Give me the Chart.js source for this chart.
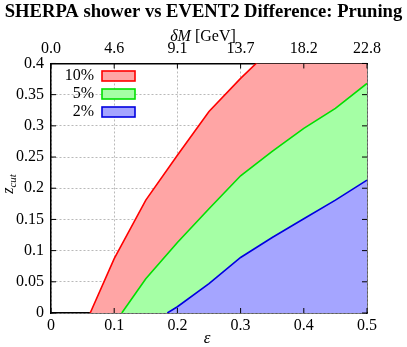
<!DOCTYPE html>
<html>
<head>
<meta charset="utf-8">
<script src="https://cdn.jsdelivr.net/npm/chart.js@4/dist/chart.umd.min.js"></script>
<style>
  html, body { margin: 0; padding: 0; background: #fff; }
  #wrap { width: 407px; height: 347px; }
</style>
</head>
<body>
<div id="wrap"><canvas id="pruneChart" width="407" height="347"></canvas></div>
<script>
// data: epsilon (x) and z_cut (y) for each contour
const eps10 = [0.062, 0.1, 0.15, 0.2, 0.25, 0.3, 0.35, 0.4, 0.45, 0.5];
const z10   = [0, 0.087, 0.181, 0.253, 0.323, 0.376, 0.425, 0.47, 0.51, 0.55];

const eps5 = [0.112, 0.15, 0.2, 0.25, 0.3, 0.35, 0.4, 0.45, 0.5];
const z5   = [0, 0.055, 0.113, 0.167, 0.220, 0.259, 0.296, 0.328, 0.368];

const eps2 = [0.184, 0.2, 0.25, 0.3, 0.35, 0.4, 0.45, 0.5];
const z2   = [0, 0.010, 0.047, 0.089, 0.121, 0.151, 0.181, 0.213];

// top axis labels (delta M in GeV at eps = 0, 0.1, ... 0.5)
const topTickLabels = ['0.0', '4.6', '9.1', '13.7', '18.2', '22.8'];

const legendLabels = ['10%', '5%', '2%'];
const lineColors = ['#ff0000', '#00e000', '#0000e0'];
const fillColors = ['#ffa5a5', '#a5ffa5', '#a5a5ff'];

const serif = '"Liberation Serif", "DejaVu Serif", serif';

function toPoints(xs, ys) {
    return xs.map((x, i) => ({ x: x, y: ys[i] }));
}

// blue first so it is painted on top (chart.js draws index 0 last)
const datasets = [
    { label: '2%', data: toPoints(eps2, z2), borderColor: lineColors[2], backgroundColor: fillColors[2] },
    { label: '5%', data: toPoints(eps5, z5), borderColor: lineColors[1], backgroundColor: fillColors[1] },
    { label: '10%', data: toPoints(eps10, z10), borderColor: lineColors[0], backgroundColor: fillColors[0] }
].map(ds => Object.assign(ds, { fill: 'origin', pointRadius: 0, borderWidth: 1.6, tension: 0 }));

function trimNum(v) {
    return String(+v.toFixed(2));
}

// ticks pointing into the plot, axis titles and the inside legend
const extrasPlugin = {
    id: 'extras',
    afterDraw(chart) {
        const ctx = chart.ctx;
        const area = chart.chartArea;
        const s = chart.scales;
        ctx.save();
        ctx.strokeStyle = '#000';
        ctx.lineWidth = 1;
        const tl = 5;
        s.x.ticks.forEach(t => {
            const px = s.x.getPixelForValue(t.value);
            ctx.beginPath();
            ctx.moveTo(px, area.bottom); ctx.lineTo(px, area.bottom - tl);
            ctx.moveTo(px, area.top); ctx.lineTo(px, area.top + tl);
            ctx.stroke();
        });
        s.y.ticks.forEach(t => {
            const py = s.y.getPixelForValue(t.value);
            ctx.beginPath();
            ctx.moveTo(area.left, py); ctx.lineTo(area.left + tl, py);
            ctx.moveTo(area.right, py); ctx.lineTo(area.right - tl, py);
            ctx.stroke();
        });

        ctx.fillStyle = '#000';
        ctx.textBaseline = 'middle';

        // epsilon
        ctx.font = 'italic 17px ' + serif;
        ctx.textAlign = 'center';
        ctx.fillText('\u03B5', 207, 339);

        // delta M [GeV]
        const part1 = '\u03B4M';
        const part2 = ' [GeV]';
        ctx.font = 'italic 16px ' + serif;
        const w1 = ctx.measureText(part1).width;
        ctx.font = '16px ' + serif;
        const w2 = ctx.measureText(part2).width;
        let x0 = 203 - (w1 + w2) / 2;
        ctx.textAlign = 'left';
        ctx.font = 'italic 16px ' + serif;
        ctx.fillText(part1, x0, 37);
        ctx.font = '16px ' + serif;
        ctx.fillText(part2, x0 + w1, 37);

        // z_cut, rotated
        ctx.save();
        ctx.translate(11, 184);
        ctx.rotate(-Math.PI / 2);
        ctx.font = 'italic 16px ' + serif;
        const wz = ctx.measureText('z').width;
        ctx.font = 'italic 11px ' + serif;
        const wc = ctx.measureText('cut').width;
        const zx = -(wz + wc) / 2;
        ctx.font = 'italic 16px ' + serif;
        ctx.fillText('z', zx, -2);
        ctx.font = 'italic 11px ' + serif;
        ctx.fillText('cut', zx + wz, 2);
        ctx.restore();

        // legend
        ctx.font = '16px ' + serif;
        ctx.textAlign = 'right';
        legendLabels.forEach((lab, i) => {
            const cy = 76 + i * 18;
            ctx.fillStyle = '#000';
            ctx.fillText(lab, 94, cy);
            ctx.fillStyle = fillColors[i];
            ctx.fillRect(102, cy - 5, 33, 10);
            ctx.strokeStyle = lineColors[i];
            ctx.lineWidth = 1.6;
            ctx.strokeRect(102, cy - 5, 33, 10);
        });
        ctx.restore();
    }
};

const gridOpts = { color: '#a8a8a8', lineWidth: 0.8, drawTicks: false };
const borderOpts = { display: true, color: '#000', width: 1.5, dash: [2, 2] };
const tickFont = { family: serif, size: 16 };

new Chart(document.getElementById('pruneChart').getContext('2d'), {
    type: 'line',
    data: { datasets: datasets },
    options: {
        responsive: false,
        animation: false,
        devicePixelRatio: 1,
        layout: { padding: 0 },
        scales: {
            x: {
                type: 'linear', position: 'bottom', min: 0, max: 0.5,
                grid: gridOpts, border: borderOpts,
                ticks: { stepSize: 0.1, padding: 3, color: '#000', font: tickFont, callback: v => trimNum(v) },
                afterFit: sc => { sc.height = 34; }
            },
            x2: {
                type: 'linear', position: 'top', min: 0, max: 0.5,
                grid: { display: false, drawTicks: false }, border: { display: true, color: '#000', width: 1.5 },
                ticks: { stepSize: 0.1, padding: 5, color: '#000', font: tickFont,
                    callback: (v, i) => topTickLabels[i] },
                afterFit: sc => { sc.height = 41; }
            },
            y: {
                type: 'linear', position: 'left', min: 0, max: 0.4,
                grid: gridOpts, border: borderOpts,
                ticks: { stepSize: 0.05, padding: 7, color: '#000', font: tickFont, callback: v => trimNum(v) },
                afterFit: sc => { sc.width = 51; }
            },
            y2: {
                type: 'linear', position: 'right', min: 0, max: 0.4,
                grid: { display: false, drawTicks: false }, border: { display: true, color: '#000', width: 1.5 },
                ticks: { display: false, stepSize: 0.05 },
                afterFit: sc => { sc.width = 40; }
            }
        },
        plugins: {
            legend: { display: false },
            tooltip: { enabled: false },
            title: {
                display: true,
                text: 'SHERPA shower vs EVENT2 Difference: Pruning',
                color: '#000',
                font: { family: serif, size: 18.6, weight: 'bold', lineHeight: 1.1 },
                padding: { top: 2, bottom: 0 }
            }
        }
    },
    plugins: [extrasPlugin]
});
</script>
</body>
</html>
